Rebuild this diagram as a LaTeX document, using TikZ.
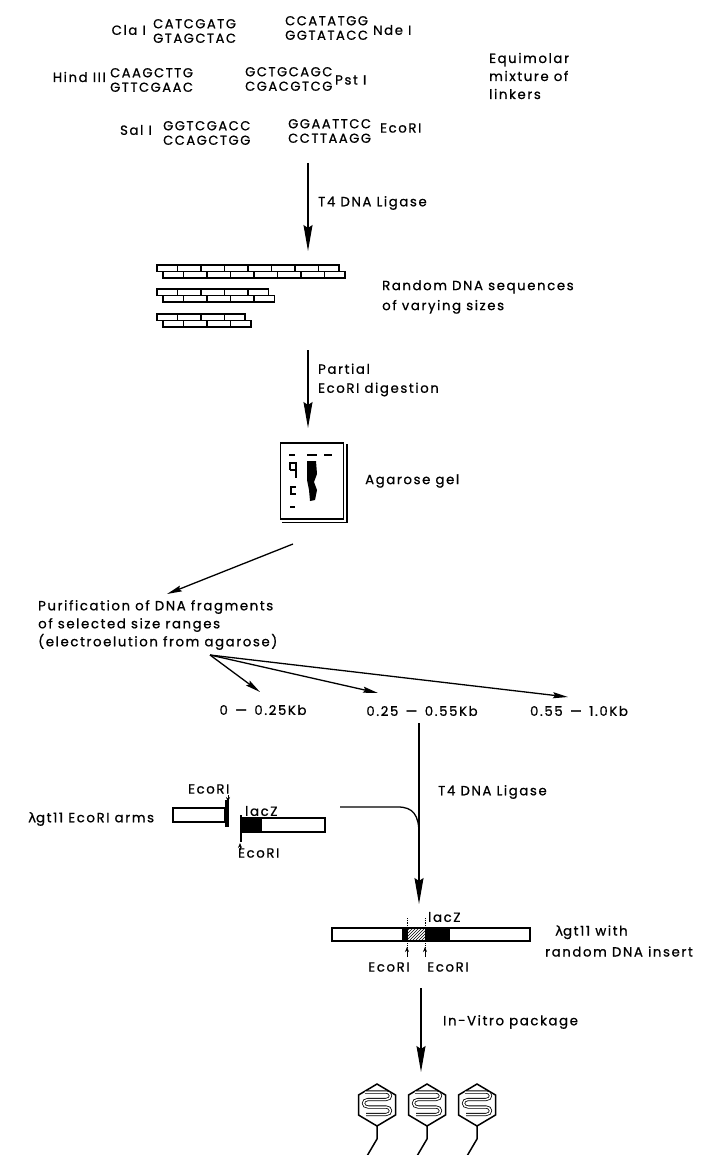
\documentclass[tikz,border=0pt]{standalone}
\usepackage{fontspec}
\setmainfont{Poppins}[LetterSpace=12, FakeBold=0.8]
\newfontfamily\lamfont{DejaVu Sans}[FakeBold=0.8]
\usetikzlibrary{arrows.meta, patterns}
\tikzstyle{arrow} = [line width=1.3pt, -{Stealth[length=26pt, width=9pt, inset=3pt]}]
\tikzstyle{sarrow} = [line width=1.3pt, -{Stealth[length=15pt, width=6pt, inset=2pt]}]

\begin{document}
\begin{tikzpicture}[
  x=1pt, y=-1pt,
  every node/.style={inner sep=0pt, font=\fontsize{13.3}{18}\selectfont},
  txt/.style={anchor=west, align=left},
  seq/.style={anchor=west, align=left, font=\fontsize{13}{14.5}\selectfont},
  enz/.style={anchor=west},
  bar/.style={draw, line width=1.2pt, fill=white, minimum height=14pt},
  site/.style={line width=0.8pt, -{Stealth[length=5pt, width=4pt]}},
  strand/.style={line width=1.2pt},
  band/.style={line width=2.8pt}
]
\useasboundingbox[fill=white] (0,0) rectangle (704,1155);

% Linkers
\node[enz, anchor=east] (cla) at (146,30) {Cla I};
\node[seq] (claseq) at (153,31) {CATCGATG\\GTAGCTAC};
\node[seq] (ndeseq) at (285,28) {CCATATGG\\GGTATACC};
\node[enz] (nde) at (373,30) {Nde I};
\node[enz, anchor=east] (hind) at (106,77) {Hind III};
\node[seq] (hindseq) at (110,80) {CAAGCTTG\\GTTCGAAC};
\node[seq] (pstseq) at (245,79) {GCTGCAGC\\CGACGTCG};
\node[enz] (pst) at (335,80) {Pst I};
\node[enz, anchor=east] (sal) at (152,130) {Sal I};
\node[seq] (salseq) at (163,133) {GGTCGACC\\CCAGCTGG};
\node[seq] (ecoseq) at (288,131) {GGAATTCC\\CCTTAAGG};
\node[enz] (eco) at (380,128) {EcoRI};
\node[txt] (equi) at (489,76) {Equimolar\\mixture of\\linkers};

% Ligation
\coordinate (lig1a) at (308,163);
\coordinate (lig1b) at (308,251);
\draw[arrow] (lig1a) -- (lig1b);
\node[txt] (lig1) at (318,203) {T4 DNA Ligase};

% Concatemers
\foreach \yt/\n in {265/8, 289/5, 314/4} {
  \pgfmathsetmacro\xe{157+\n*23.5}
  \pgfmathtruncatemacro\m{\n-1}
  \draw[strand] (157,\yt) -- (\xe-6,\yt) -- (\xe-6,\yt+6.5) -- (\xe,\yt+6.5)
    -- (\xe,\yt+13) -- (163,\yt+13) -- (163,\yt+6.5) -- (157,\yt+6.5) -- cycle;
  \draw[strand] (163,\yt+6.5) -- (\xe-6,\yt+6.5);
  \foreach \k in {1,...,\m}
    \draw[strand] (157+\k*23.5-3,\yt) -- ++(0,6.5) -- ++(6,0) -- ++(0,6.5);
}
\node[txt, font=\fontsize{13.3}{20}\selectfont] (rand) at (382,297) {Random DNA sequences\\of varying sizes};

% Digestion
\coordinate (dig1a) at (308,350);
\coordinate (dig1b) at (308,428);
\draw[arrow] (dig1a) -- (dig1b);
\node[txt, font=\fontsize{13.3}{19}\selectfont] (dig) at (318,380) {Partial\\EcoRI digestion};

% Gel
\node[draw, line width=1.8pt, minimum width=63pt, minimum height=76pt] (gel) at (312,481) {};
\draw[line width=1.6pt] ([xshift=2.5pt,yshift=-2pt]gel.north east)
  -- ([xshift=2.5pt,yshift=-2.5pt]gel.south east) -- ([xshift=2pt,yshift=-2.5pt]gel.south west);
\draw[band] (289,455) -- (295,455);
\draw[band] (307,455) -- (317,455);
\draw[band] (324,455) -- (332,455);
\draw[band] (290,470) -- (290,463) -- (296,463) -- (296,478);
\draw[band] (290,470) -- (296,470);
\draw[band] (296,487) -- (291,487) -- (291,494) -- (296,494);
\draw[band] (290,507) -- (295,507);
\fill (307,461) -- (316,461) -- (317,474) -- (314,482) -- (317,490) -- (315,500)
  -- (310,501) -- (309,490) -- (307,480) -- cycle;
\node[txt] (gellbl) at (365,481) {Agarose gel};

% Size selection
\coordinate (elu) at (293,544);
\coordinate (pur) at (167,594);
\draw[sarrow] (elu) -- (pur);
\node[txt] (purif) at (38,625) {Purification of DNA fragments\\of selected size ranges\\(electroelution from agarose)};
\coordinate (fan) at (210,655);
\node (r1) at (263,710) {0 \,—\, 0.25Kb};
\node (r2) at (422,711) {0.25 \,—\, 0.55Kb};
\node (r3) at (579,711) {0.55 \,—\, 1.0Kb};
\coordinate (r1in) at (260,692);
\coordinate (r2in) at (378,693);
\coordinate (r3in) at (568,697);
\draw[sarrow] (fan) -- (r1in);
\draw[sarrow] (fan) -- (r2in);
\draw[sarrow] (fan) -- (r3in);

% Cloning into the vector
\coordinate (pool) at (419,723);
\coordinate (ins) at (419,904);
\draw[arrow] (pool) -- (ins);
\node[txt] (lig2) at (438,792) {T4 DNA Ligase};

\node[txt] (armlbl) at (28,819) {{\lamfont λ}gt11 EcoRI arms};
\node[bar, minimum width=52pt] (larm) at (199,815) {};
\draw[line width=3.5pt] (227,800) -- (227,827);
\node[enz] (ecoL) at (188,789) {EcoRI};
\draw[site] (228,795) -- (228,802);
\draw[line width=2.5pt] (241,815) -- (241,842);
\node[bar, minimum width=83pt] (rarm) at (283.5,825) {};
\fill (242,818) rectangle (262,832);
\node[enz] (lacZa) at (245,811) {lacZ};
\node[enz] (ecoR) at (238,853) {EcoRI};
\draw[site] (240,850) -- (240,843);

\coordinate (joinL) at (340,807);
\draw[line width=1.3pt] (joinL) -- (398,807) .. controls (413,807) and (419,815) .. (419,834);

% Recombinant
\node[bar, minimum width=198pt, minimum height=13pt] (vec) at (431,934.5) {};
\fill (402,928) rectangle (407,941);
\draw[pattern=north east lines] (407,928) rectangle (425,941);
\fill (425,928) rectangle (450,941);
\draw[line width=1.2pt] (vec.north west) rectangle (vec.south east);
\draw[densely dotted, line width=0.8pt] (407,918) -- (407,948);
\draw[densely dotted, line width=0.8pt] (425,918) -- (425,948);
\draw[site] (407,957) -- (407,947);
\draw[site] (425,957) -- (425,947);
\node[enz] (lacZb) at (428,917) {lacZ};
\node (ecoB1) at (389,967) {EcoRI};
\node (ecoB2) at (448,967) {EcoRI};
\node[txt, font=\fontsize{13.3}{21}\selectfont] (recomb) at (545,941) {\hspace*{10pt}{\lamfont λ}gt11 with\\random DNA insert};

% Packaging
\coordinate (pk1) at (421,988);
\coordinate (pk2) at (421,1072);
\draw[arrow] (pk1) -- (pk2);
\node[txt] (pack) at (443,1022) {In-Vitro package};

\foreach \cx in {377,427,477} {
  \draw[line width=1.5pt] (\cx,1084) -- (\cx+18.5,1095) -- (\cx+18.5,1115) -- (\cx,1126)
    -- (\cx-18.5,1115) -- (\cx-18.5,1095) -- cycle;
  \draw[line width=1.5pt] (\cx,1126) -- (\cx,1139) -- (\cx-10,1156);
  \draw[double, double distance=1.5pt, line width=0.8pt] (\cx-12,1092) -- (\cx+9,1092)
    .. controls (\cx+15,1092) and (\cx+15,1099.5) .. (\cx+9,1099.5) -- (\cx-9,1099.5)
    .. controls (\cx-15,1099.5) and (\cx-15,1107) .. (\cx-9,1107) -- (\cx+9,1107)
    .. controls (\cx+15,1107) and (\cx+15,1114.5) .. (\cx+9,1114.5) -- (\cx-11,1114.5);
}
\end{tikzpicture}
\end{document}
